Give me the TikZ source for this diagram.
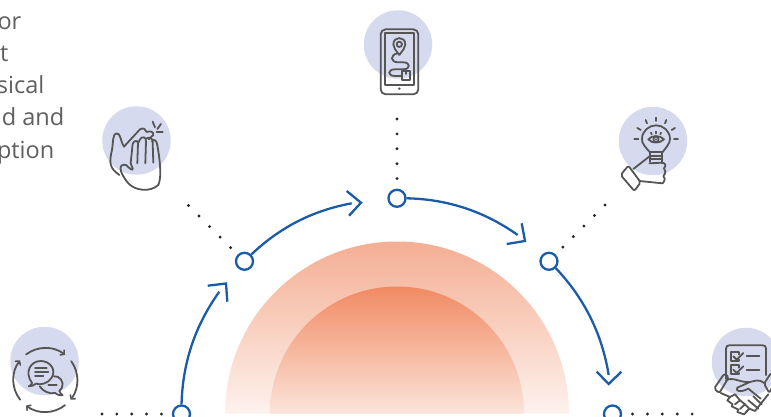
\documentclass[tikz,border=0pt]{standalone}
\usepackage{fontspec}
\setmainfont{Open Sans}
\usetikzlibrary{arrows.meta,calc}
\definecolor{flow}{HTML}{1A5CA8}
\definecolor{halo}{HTML}{D6DAEE}
\definecolor{inkg}{HTML}{555555}
\definecolor{txt}{HTML}{5E5E5E}
\definecolor{outerA}{HTML}{F4AE93}
\definecolor{outerB}{HTML}{FDF2ED}
\definecolor{innerA}{HTML}{F18A63}
\definecolor{innerB}{HTML}{FBE4DA}
\tikzset{
  hub/.style={circle,draw=flow,line width=2.3pt,fill=white,minimum size=17pt,inner sep=0pt},
  flowarc/.style={draw=flow,line width=2.3pt},
  barbhead/.style={draw=flow,line width=2.3pt,line join=miter},
  dotrun/.style={draw=black!85,line width=3.2pt,line cap=round,dash pattern=on 0pt off #1},
  halodisc/.style={circle,fill=halo,minimum size=68.5pt,inner sep=0pt},
  ico/.style={draw=inkg,line width=1.8pt,line cap=round,line join=round},
  chev/.style={-{Straight Barb[length=3pt,width=7pt,line width=1.5pt]}},
  bodytext/.style={anchor=base east,inner sep=0pt,text=txt,font=\fontsize{23.5}{32}\selectfont},
  zoomed/.style={shift={#1},x=.3333pt,y=-.3333pt},
}
\begin{document}
\begin{tikzpicture}[x=1pt,y=-1pt]
\useasboundingbox (0,0) rectangle (771,417);
\clip (0,0) rectangle (771,417);
% domes
\shade[top color=outerA,bottom color=outerB] (225,413.5) arc[start angle=180,end angle=360,radius=172] -- cycle;
\shade[top color=innerA,bottom color=innerB] (270,413.5) arc[start angle=180,end angle=360,radius=127] -- cycle;
% text
\node[bodytext] (t1) at (21.5,30) {or};
\node[bodytext] (t2) at (8.5,62) {t};
\node[bodytext] (t3) at (44.5,94) {sical};
\node[bodytext] (t4) at (64.5,126) {d and};
\node[bodytext] (t5) at (54.5,158) {ption};
% halos
\node[halodisc] (hA) at (44.5,361) {};
\node[halodisc] (hB) at (136.5,140.5) {};
\node[halodisc] (hC) at (398,44.5) {};
\node[halodisc] (hD) at (653,141) {};
\node[halodisc] (hE) at (746,362) {};
% hubs
\node[hub] (n1) at (181.5,414) {};
\node[hub] (n2) at (244.5,261.3) {};
\node[hub] (n3) at (397,198.3) {};
\node[hub] (n4) at (549,261.3) {};
\node[hub] (n5) at (612.5,414) {};
% shaft ends
\coordinate (e1) at (219.3,291.7);
\coordinate (e2) at (351.7,203.3);
\coordinate (e3) at (517.7,235);
\coordinate (e4) at (608.7,375);
\draw[flowarc] (n1) to[bend left=17,looseness=.9] (e1);
\draw[flowarc] (n2) to[bend left=16.5,looseness=.9] (e2);
\draw[flowarc] (n3) to[bend left=17,looseness=.9] (e3);
\draw[flowarc] (n4) to[bend left=17,looseness=.9] (e4);
% open arrowheads
\draw[barbhead] (207.7,285.7) -- (226,283.5) -- (227.3,301.7);
\draw[barbhead] (346.7,191) -- (361,202.7) -- (349,215.7);
\draw[barbhead] (521.7,223.3) -- (525,241) -- (506.7,244);
\draw[barbhead] (596.7,371.7) -- (608.7,384) -- (621.3,371.7);
% dotted runs
\coordinate (a1) at (102,414); \coordinate (a2) at (161.5,414);
\coordinate (b1) at (188.5,205.5); \coordinate (b2) at (231,248);
\coordinate (c1) at (397,119); \coordinate (c2) at (397,179);
\coordinate (d1) at (605,205); \coordinate (d2) at (562.5,247.5);
\coordinate (f1) at (632.5,414); \coordinate (f2) at (692.5,414);
\draw[dotrun=14.85pt] (a1) -- (a2);
\draw[dotrun=14.9pt] (b1) -- (b2);
\draw[dotrun=14.9pt] (c1) -- (c2);
\draw[dotrun=14.9pt] (d1) -- (d2);
\draw[dotrun=14.9pt] (f1) -- (f2);
% clap icon
\begin{scope}[zoomed={(0,0)}]
\draw[ico] (372,440) .. controls (360,420) and (362,400) .. (350,400) .. controls (338,400) and (340,425) .. (336,450) .. controls (326,490) and (330,505) .. (358,525);
\draw[ico] (372,440) -- (420,388) .. controls (430,382) and (438,388) .. (440,396) .. controls (450,392) and (462,395) .. (460,405) -- (446,418);
\draw[ico] (378,495) .. controls (358,490) and (352,510) .. (385,550) .. controls (405,572) and (450,578) .. (475,555) .. controls (487,530) and (478,470) .. (472,435) .. controls (470,420) and (460,415) .. (456,425);
\draw[ico] (378,495) .. controls (388,505) and (400,515) .. (398,505) -- (392,490);
\draw[ico] (392,490) -- (398,432) .. controls (402,420) and (414,420) .. (414,430) -- (412,490);
\draw[ico] (414,430) -- (420,418) .. controls (426,408) and (440,410) .. (438,425) -- (436,490);
\draw[ico] (440,415) .. controls (448,410) and (458,415) .. (458,425) -- (460,488);
\draw[ico] (458,365) -- (465,382);
\draw[ico] (483,372) -- (472,387);
\draw[ico] (488,395) -- (470,395);
\end{scope}
% phone icon
\begin{scope}[zoomed={(340,0)}]
\draw[ico,rounded corners=5pt] (122,88) rectangle (235,283);
\draw[ico] (135,100) rectangle (222,255);
\fill[inkg] (178,266) circle[radius=4];
\draw[ico] (178,165) .. controls (168,150) and (160,145) .. (160,133) .. controls (160,108) and (196,108) .. (196,133) .. controls (196,145) and (188,150) .. (178,165);
\draw[ico] (178,133) circle[radius=8];
\draw[ico] (172,160) .. controls (150,165) and (150,187) .. (175,187) -- (190,187) .. controls (212,187) and (212,208) .. (190,208) -- (165,208) .. controls (142,208) and (142,228) .. (165,228) -- (185,228);
\draw[ico] (185,213) rectangle (210,240);
\draw[ico] (197,213) -- (197,222);
\end{scope}
% bulb icon
\begin{scope}[zoomed={(600,95)}]
\draw[ico] (150,172) .. controls (135,155) and (125,145) .. (126,132) .. controls (126,108) and (147,91) .. (168,91) .. controls (190,91) and (210,108) .. (210,132) .. controls (210,145) and (197,160) .. (187,172);
\draw[ico] (150,172) -- (150,200);
\draw[ico] (187,172) -- (187,205);
\draw[ico] (150,172) -- (187,172);
\draw[ico] (150,182) -- (187,182);
\draw[ico] (150,192) -- (187,192);
\draw[ico] (168,68) -- (168,78);
\draw[ico] (137,75) -- (141,85);
\draw[ico] (199,75) -- (195,85);
\draw[ico] (112,99) -- (122,105);
\draw[ico] (225,99) -- (215,105);
\draw[ico] (103,133) -- (115,133);
\draw[ico] (222,133) -- (234,133);
\draw[ico] (145,133) .. controls (155,120) and (180,120) .. (192,133) .. controls (180,146) and (155,146) .. (145,133) -- cycle;
\draw[ico] (168,133) circle[radius=8];
\fill[inkg] (168,133) circle[radius=3];
\draw[ico] (155,118) -- (153,113);
\draw[ico] (168,115) -- (168,110);
\draw[ico] (181,118) -- (183,113);
\draw[ico,rounded corners=2pt] (62,240) -- (85,212) -- (122,262) -- (103,288) -- cycle;
\draw[ico] (150,183) -- (100,222);
\draw[ico] (118,258) -- (188,265) .. controls (196,255) and (196,248) .. (190,243) .. controls (198,235) and (198,225) .. (192,220) .. controls (198,213) and (198,205) .. (187,203) -- (148,205);
\end{scope}
% handshake icon
\begin{scope}[zoomed={(690,317)}]
\draw[ico] (108,185) -- (108,95) .. controls (108,88) and (112,85) .. (118,85) -- (218,85) .. controls (225,85) and (228,88) .. (228,95) -- (228,175);
\draw[ico] (148,112) -- (148,105) -- (122,105) -- (122,132) -- (148,132) -- (148,128);
\draw[ico] (130,118) -- (140,128) -- (160,108);
\draw[ico] (148,152) -- (148,145) -- (122,145) -- (122,172) -- (148,172) -- (148,168);
\draw[ico] (130,158) -- (140,168) -- (160,148);
\draw[ico] (170,118) -- (208,118);
\draw[ico] (170,158) -- (208,158);
\draw[ico,rounded corners=2pt] (72,215) -- (103,170) -- (117,180) -- (88,228) -- cycle;
\draw[ico,rounded corners=2pt] (222,200) -- (243,168) -- (262,180) -- (238,228) -- cycle;
\draw[ico] (108,190) .. controls (130,178) and (150,198) .. (180,195) .. controls (195,192) and (205,185) .. (222,198);
\draw[ico] (180,195) -- (142,212) .. controls (135,222) and (150,228) .. (175,215) -- (212,245);
\draw[ico] (92,228) -- (120,240) -- (112,250) -- (128,262) -- (125,268) -- (145,278) -- (142,285) -- (162,292) -- (172,282);
\draw[ico] (120,240) -- (135,232) -- (150,250) -- (135,262);
\draw[ico] (150,250) -- (165,262) -- (150,276);
\draw[ico] (165,262) -- (178,275) -- (168,285);
\draw[ico] (178,275) -- (195,282) -- (235,232);
\draw[ico] (175,250) -- (205,275);
\draw[ico] (190,238) -- (215,262);
\end{scope}
% chat icon
\begin{scope}[zoomed={(0,317)}]
\coordinate (rc) at (136,189);
\draw[ico,chev] ($(rc)+(-127:96)$) arc[start angle=-127,end angle=-52,radius=96];
\draw[ico,chev] ($(rc)+(-36:96)$) arc[start angle=-36,end angle=38,radius=96];
\draw[ico,chev] ($(rc)+(52:96)$) arc[start angle=52,end angle=127,radius=96];
\draw[ico,chev] ($(rc)+(142:96)$) arc[start angle=142,end angle=218,radius=96];
\draw[ico] (96,198) .. controls (72,165) and (92,132) .. (122,132) .. controls (150,132) and (170,158) .. (155,182) .. controls (145,200) and (120,205) .. (108,200) .. controls (102,205) and (95,208) .. (86,208) .. controls (92,206) and (95,202) .. (96,198) -- cycle;
\draw[ico] (162,178) .. controls (178,175) and (194,195) .. (186,212) -- (178,222) .. controls (180,228) and (184,232) .. (188,235) .. controls (178,236) and (170,232) .. (165,228) .. controls (150,232) and (130,224) .. (119,208);
\draw[ico] (105,152) -- (140,152);
\draw[ico] (105,165) -- (145,165);
\draw[ico] (105,178) -- (130,178);
\draw[ico] (145,205) -- (170,205);
\end{scope}
\end{tikzpicture}
\end{document}
